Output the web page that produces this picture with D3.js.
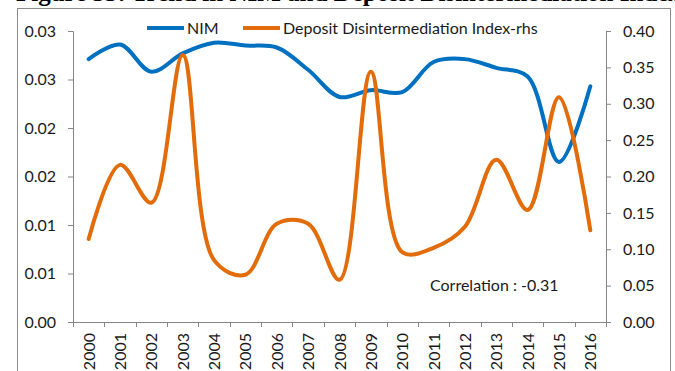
<!DOCTYPE html>
<html>
<head>
<meta charset="utf-8">
<script src="https://cdn.jsdelivr.net/npm/d3@7"></script>
<style>
  html, body { margin: 0; padding: 0; background: #fff; }
  svg { display: block; }
  text { font-family: Lato, "Open Sans", sans-serif; fill: #1a1a1a; }
</style>
</head>
<body>
<svg id="chart" width="675" height="371"></svg>
<script>
// Years on the category axis
const years = ["2000","2001","2002","2003","2004","2005","2006","2007","2008",
               "2009","2010","2011","2012","2013","2014","2015","2016"];

// Net interest margin (left axis)
const nim = [0.0271, 0.0286, 0.0258, 0.0277, 0.0288, 0.0285, 0.0283, 0.0260, 0.0232,
             0.0239, 0.0237, 0.0268, 0.0271, 0.0262, 0.0253, 0.0165, 0.0243];

// Deposit disintermediation index (right axis)
const ddi = [0.114, 0.216, 0.164, 0.367, 0.085, 0.065, 0.135, 0.135, 0.058,
             0.344, 0.096, 0.102, 0.131, 0.223, 0.154, 0.309, 0.126];

// Axis ticks and their printed labels (two decimals, half-steps round up)
const leftTicks = [0, 0.005, 0.01, 0.015, 0.02, 0.025, 0.03];
const leftTickLabels = ["0.00", "0.01", "0.01", "0.02", "0.02", "0.03", "0.03"];
const rightTicks = [0, 0.05, 0.10, 0.15, 0.20, 0.25, 0.30, 0.35, 0.40];
const rightTickLabels = ["0.00", "0.05", "0.10", "0.15", "0.20", "0.25", "0.30", "0.35", "0.40"];

const seriesNames = ["NIM", "Deposit Disintermediation Index-rhs"];
const titleText = "Figure 35: Trend in NIM and Deposit Disintermediation Index";
const note = "Correlation : -0.31";

const blue = "#0070C0", orange = "#E36C0A", axisGrey = "#868686";
const fontSize = "16px";

const svg = d3.select("#chart");
const m = { left: 73, right: 606, top: 31, bottom: 322 };

// Heading sitting above the chart box (runs past the top edge)
svg.append("text")
  .attr("x", 16).attr("y", 0.5)
  .style("font-family", "'Liberation Serif', serif")
  .style("font-weight", "bold").style("font-size", "25px")
  .style("fill", "#000")
  .text(titleText);

// Chart frame
svg.append("rect")
  .attr("x", 17.5).attr("y", 8.5).attr("width", 653).attr("height", 380)
  .attr("fill", "none").attr("stroke", "#8c8c8c").attr("stroke-width", 1);

const x = d3.scaleBand().domain(years).range([m.left, m.right]).paddingInner(0).paddingOuter(0);
const yL = d3.scaleLinear().domain([0, 0.03]).range([m.bottom, m.top]);
const yR = d3.scaleLinear().domain([0, 0.40]).range([m.bottom, m.top]);

function styleAxis(g) {
  g.selectAll("path").attr("stroke", axisGrey);
  g.selectAll("line").attr("stroke", axisGrey);
  g.selectAll("text").style("font-size", fontSize).style("fill", "#1a1a1a");
}

// Left axis
svg.append("g")
  .attr("transform", `translate(${m.left},0)`)
  .call(d3.axisLeft(yL).tickValues(leftTicks).tickFormat((d, i) => leftTickLabels[i])
        .tickSizeInner(5).tickSizeOuter(5).tickPadding(12))
  .call(styleAxis);

// Right axis
svg.append("g")
  .attr("transform", `translate(${m.right},0)`)
  .call(d3.axisRight(yR).tickValues(rightTicks).tickFormat((d, i) => rightTickLabels[i])
        .tickSizeInner(5).tickSizeOuter(5).tickPadding(12))
  .call(styleAxis);

// Category axis with ticks between years
const xAxis = svg.append("g").attr("transform", `translate(0,${m.bottom})`);
xAxis.append("line")
  .attr("x1", m.left).attr("x2", m.right).attr("y1", 0.5).attr("y2", 0.5)
  .attr("stroke", axisGrey);
xAxis.selectAll("line.tick")
  .data(d3.range(years.length + 1))
  .join("line").attr("class", "tick")
  .attr("x1", i => Math.round(m.left + i * x.step()) + 0.5)
  .attr("x2", i => Math.round(m.left + i * x.step()) + 0.5)
  .attr("y1", 0).attr("y2", 5)
  .attr("stroke", axisGrey);
xAxis.selectAll("text")
  .data(years)
  .join("text")
  .attr("transform", d => `translate(${x(d) + x.bandwidth() / 2 + 6},11) rotate(-90)`)
  .attr("text-anchor", "end")
  .style("font-size", fontSize)
  .text(d => d);

// Smoothed series lines
const cx = d => x(d) + x.bandwidth() / 2;
const smooth = d3.curveCatmullRom.alpha(0.5);
const lineL = d3.line().x((v, i) => cx(years[i])).y(v => yL(v)).curve(smooth);
const lineR = d3.line().x((v, i) => cx(years[i])).y(v => yR(v)).curve(smooth);

svg.append("path").datum(nim)
  .attr("d", lineL).attr("fill", "none")
  .attr("stroke", blue).attr("stroke-width", 4).attr("stroke-linecap", "round");
svg.append("path").datum(ddi)
  .attr("d", lineR).attr("fill", "none")
  .attr("stroke", orange).attr("stroke-width", 4).attr("stroke-linecap", "round");

// Legend
const legend = [
  { name: seriesNames[0], color: blue, x: 147 },
  { name: seriesNames[1], color: orange, x: 243 }
];
const lg = svg.append("g");
legend.forEach(d => {
  lg.append("line")
    .attr("x1", d.x).attr("x2", d.x + 37).attr("y1", 28).attr("y2", 28)
    .attr("stroke", d.color).attr("stroke-width", 4);
  lg.append("text")
    .attr("x", d.x + 40).attr("y", 28).attr("dy", "0.35em")
    .style("font-size", fontSize).text(d.name);
});

// Correlation note
svg.append("text")
  .attr("x", 430).attr("y", 285).attr("dy", "0.35em")
  .style("font-size", fontSize).text(note);
</script>
</body>
</html>
